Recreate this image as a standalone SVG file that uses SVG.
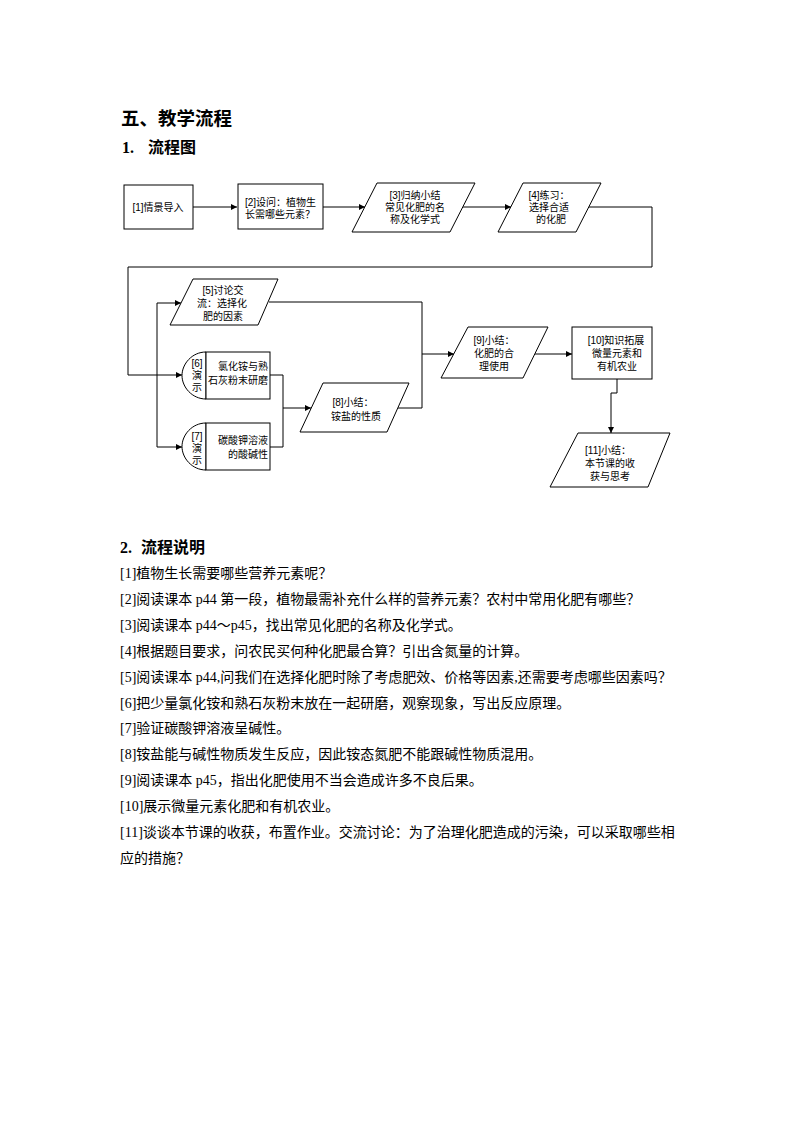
<svg xmlns="http://www.w3.org/2000/svg" width="794" height="1123" viewBox="0 0 794 1123">
<defs>
<style>
.bg{fill:#ffffff}
.sh{fill:#ffffff;stroke:#000000;stroke-width:1}
.ln{fill:none;stroke:#000000;stroke-width:1}
.fc{font-family:"Liberation Sans","Noto Sans CJK SC",sans-serif;font-size:10px;fill:#000000}
.mid{text-anchor:middle}
.end{text-anchor:end}
.h1{font-family:"Liberation Serif","Noto Sans CJK SC",serif;font-size:18.5px;font-weight:bold;fill:#000000}
.h2{font-family:"Liberation Serif","Noto Sans CJK SC",serif;font-size:16px;font-weight:bold;fill:#000000}
.body{font-family:"Liberation Serif","Noto Sans CJK SC",serif;font-size:14px;fill:#000000}
</style>
<marker id="arr" viewBox="0 0 10 10" refX="10" refY="5" markerWidth="7" markerHeight="6" markerUnits="userSpaceOnUse" orient="auto">
<path d="M0,0 L10,5 L0,10 z" fill="#000000"/>
</marker>
</defs>
<rect class="bg" x="0" y="0" width="794" height="1123"/>

<g id="headings">
<text class="h1" x="121" y="125">五、教学流程</text>
<text class="h2" y="153"><tspan x="122">1.</tspan><tspan x="148">流程图</tspan></text>
<text class="h2" y="553"><tspan x="120">2.</tspan><tspan x="141">流程说明</tspan></text>
</g>

<g id="connectors">
<path class="ln" d="M193,207 H237" marker-end="url(#arr)"/>
<path class="ln" d="M323,207 H365" marker-end="url(#arr)"/>
<path class="ln" d="M463,207 H511" marker-end="url(#arr)"/>
<path class="ln" d="M588,207 H652 V267 H128 V375 H182" marker-end="url(#arr)"/>
<path class="ln" d="M157,375 V303 H181" marker-end="url(#arr)"/>
<path class="ln" d="M157,375 V447 H182" marker-end="url(#arr)"/>
<path class="ln" d="M270,375 H283 V447 H270"/>
<path class="ln" d="M283,408 H311" marker-end="url(#arr)"/>
<path class="ln" d="M269,302 H422 V354 H454" marker-end="url(#arr)"/>
<path class="ln" d="M398,408 H422 V354"/>
<path class="ln" d="M535,354 H572" marker-end="url(#arr)"/>
<path class="ln" d="M617,379 V393 H611 V433" marker-end="url(#arr)"/>
</g>

<g id="n1">
<rect class="sh" x="124" y="185" width="69" height="44"/>
<text class="fc mid" x="158" y="211">[1]情景导入</text>
</g>

<g id="n2">
<rect class="sh" x="238" y="184" width="85" height="45"/>
<text class="fc" x="245" y="206">[2]设问：植物生</text>
<text class="fc" x="245" y="218">长需哪些元素？</text>
</g>

<g id="n3">
<polygon class="sh" points="377,183 475,183 450,232 352,232"/>
<text class="fc mid" x="415" y="199">[3]归纳小结</text>
<text class="fc mid" x="415" y="211">常见化肥的名</text>
<text class="fc mid" x="415" y="223">称及化学式</text>
</g>

<g id="n4">
<polygon class="sh" points="523,183 601,183 576,232 498,232"/>
<text class="fc mid" x="549" y="199">[4]练习：</text>
<text class="fc mid" x="549" y="211">选择合适</text>
<text class="fc mid" x="551" y="223">的化肥</text>
</g>

<g id="n5">
<polygon class="sh" points="193,279 278,279 258,325 170,325"/>
<text class="fc mid" x="223" y="294">[5]讨论交</text>
<text class="fc mid" x="222" y="307">流：选择化</text>
<text class="fc mid" x="223" y="320">肥的因素</text>
</g>

<g id="n6">
<path class="sh" d="M206,352 C192,352 182,364 182,375.5 C182,387 192,399 206,399 Z"/>
<rect class="sh" x="206" y="352" width="64" height="47"/>
<text class="fc mid" x="197" y="367">[6]</text>
<text class="fc mid" x="197" y="379">演</text>
<text class="fc mid" x="197" y="391">示</text>
<text class="fc end" x="268" y="370">氯化铵与熟</text>
<text class="fc end" x="268" y="384">石灰粉末研磨</text>
</g>

<g id="n7">
<path class="sh" d="M206,423 C192,423 182,435 182,446.5 C182,458 192,470 206,470 Z"/>
<rect class="sh" x="206" y="423" width="64" height="47"/>
<text class="fc mid" x="197" y="440">[7]</text>
<text class="fc mid" x="197" y="452">演</text>
<text class="fc mid" x="197" y="464">示</text>
<text class="fc end" x="268" y="444">碳酸钾溶液</text>
<text class="fc end" x="268" y="458">的酸碱性</text>
</g>

<g id="n8">
<polygon class="sh" points="323,383 409,383 387,432 300,432"/>
<text class="fc mid" x="353" y="406">[8]小结：</text>
<text class="fc mid" x="356" y="420">铵盐的性质</text>
</g>

<g id="n9">
<polygon class="sh" points="468,327 548,327 523,378 441,378"/>
<text class="fc mid" x="494" y="344">[9]小结：</text>
<text class="fc mid" x="494" y="357">化肥的合</text>
<text class="fc mid" x="494" y="370">理使用</text>
</g>

<g id="n10">
<rect class="sh" x="572" y="327" width="80" height="52"/>
<text class="fc mid" x="616" y="344">[10]知识拓展</text>
<text class="fc mid" x="617" y="357">微量元素和</text>
<text class="fc mid" x="617" y="370">有机农业</text>
</g>

<g id="n11">
<polygon class="sh" points="578,433 670,433 648,487 550,487"/>
<text class="fc mid" x="608" y="454">[11]小结：</text>
<text class="fc mid" x="610" y="467">本节课的收</text>
<text class="fc mid" x="610" y="480">获与思考</text>
</g>

<g id="description">
<text class="body" x="120" y="578">[1]植物生长需要哪些营养元素呢？</text>
<text class="body" x="120" y="604">[2]阅读课本 p44 第一段，植物最需补充什么样的营养元素？农村中常用化肥有哪些？</text>
<text class="body" x="120" y="630">[3]阅读课本 p44～p45，找出常见化肥的名称及化学式。</text>
<text class="body" x="120" y="656">[4]根据题目要求，问农民买何种化肥最合算？引出含氮量的计算。</text>
<text class="body" x="120" y="682">[5]阅读课本 p44,问我们在选择化肥时除了考虑肥效、价格等因素,还需要考虑哪些因素吗？</text>
<text class="body" x="120" y="708">[6]把少量氯化铵和熟石灰粉末放在一起研磨，观察现象，写出反应原理。</text>
<text class="body" x="120" y="733">[7]验证碳酸钾溶液呈碱性。</text>
<text class="body" x="120" y="759">[8]铵盐能与碱性物质发生反应，因此铵态氮肥不能跟碱性物质混用。</text>
<text class="body" x="120" y="785">[9]阅读课本 p45，指出化肥使用不当会造成许多不良后果。</text>
<text class="body" x="120" y="811">[10]展示微量元素化肥和有机农业。</text>
<text class="body" x="120" y="837">[11]谈谈本节课的收获，布置作业。交流讨论：为了治理化肥造成的污染，可以采取哪些相</text>
<text class="body" x="120" y="863">应的措施？</text>
</g>
</svg>
